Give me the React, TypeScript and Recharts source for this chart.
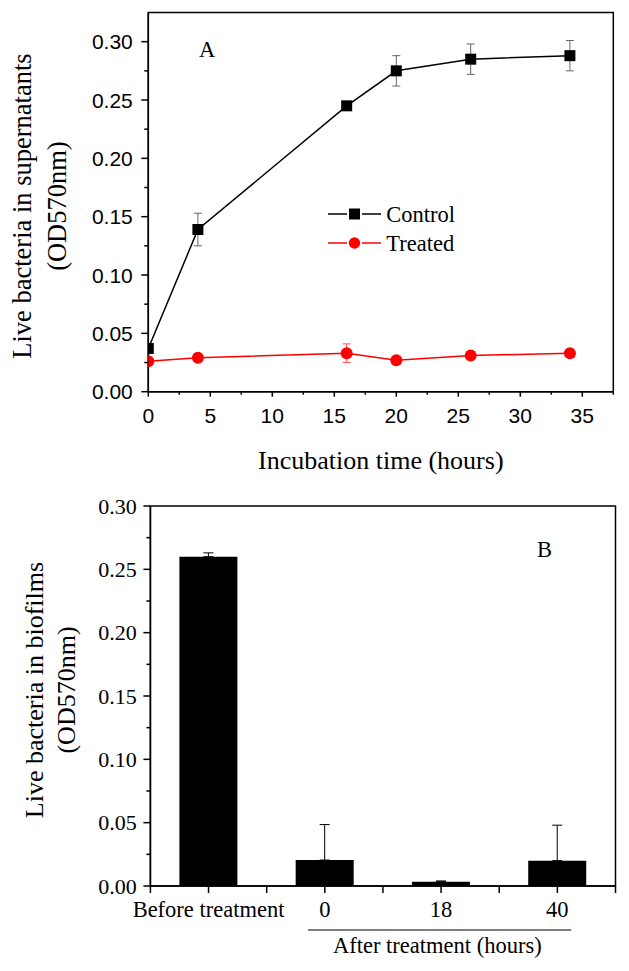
import React from 'react';
import {
  LineChart,
  Line,
  XAxis,
  YAxis,
  ErrorBar,
  ReferenceArea,
  Legend,
  BarChart,
  Bar,
  Label,
} from 'recharts';

const SERIF = '"Liberation Serif", "Times New Roman", Times, serif';
const SANS = '"Liberation Sans", Arial, Helvetica, sans-serif';

// ---------- Panel A data ----------
const hours = [0, 4, 16, 20, 26, 34];
const controlOD = [0.037, 0.139, 0.245, 0.275, 0.285, 0.288];
const controlErr = [0, 0.014, 0, 0.013, 0.013, 0.013];
const treatedOD = [0.026, 0.029, 0.033, 0.027, 0.031, 0.033];
const treatedErr = [0, 0, 0.008, 0, 0, 0];
const xTicksA = [0, 2.5, 5, 7.5, 10, 12.5, 15, 17.5, 20, 22.5, 25, 27.5, 30, 32.5, 35, 37.5];
const yTicksA = [0, 0.025, 0.05, 0.075, 0.1, 0.125, 0.15, 0.175, 0.2, 0.225, 0.25, 0.275, 0.3];

// ---------- Panel B data ----------
const biofilmCategories = ['Before treatment', '0', '18', '40'];
const biofilmOD = [0.26, 0.0205, 0.0034, 0.02];
const biofilmErr = [0.003, 0.028, 0.0006, 0.028];
const xTicksB = [0.5, 1, 1.5, 2, 2.5, 3, 3.5, 4, 4.5];
const yTicksB = [0, 0.025, 0.05, 0.075, 0.1, 0.125, 0.15, 0.175, 0.2, 0.225, 0.25, 0.275, 0.3];

const dataA = hours.map((h, i) => ({
  hour: h,
  control: controlOD[i],
  controlErr: controlErr[i],
  treated: treatedOD[i],
  treatedErr: treatedErr[i],
}));

const dataB = biofilmCategories.map((c, i) => ({
  pos: i + 1,
  label: c,
  od: biofilmOD[i],
  err: [0, biofilmErr[i]],
}));

const isMajor = (v: number, step: number) => Math.abs(v / step - Math.round(v / step)) < 1e-6;

// ---------- ticks ----------
const YTickA = (p: any) => {
  const v = p.payload.value;
  const major = isMajor(v, 0.05);
  return (
    <g>
      <line x1={p.x - (major ? 7 : 4)} x2={p.x} y1={p.y} y2={p.y} stroke="#000" strokeWidth={1.5} />
      {major && (
        <text x={p.x - 15.5} y={p.y} textAnchor="end" dominantBaseline="central" fontFamily={SANS} fontSize={21} fill="#000">
          {v.toFixed(2)}
        </text>
      )}
    </g>
  );
};

const XTickA = (p: any) => {
  const v = p.payload.value;
  const major = isMajor(v, 5);
  return (
    <g>
      <line x1={p.x} x2={p.x} y1={p.y} y2={p.y + (major ? 5 : 3)} stroke="#000" strokeWidth={1.5} />
      {major && (
        <text x={p.x} y={p.y + 31} textAnchor="middle" fontFamily={SANS} fontSize={21} fill="#000">
          {String(v)}
        </text>
      )}
    </g>
  );
};

const YTickB = (p: any) => {
  const v = p.payload.value;
  const major = isMajor(v, 0.05);
  return (
    <g>
      <line x1={p.x - (major ? 7 : 4)} x2={p.x} y1={p.y} y2={p.y} stroke="#000" strokeWidth={1.5} />
      {major && (
        <text x={p.x - 13.7} y={p.y} textAnchor="end" dominantBaseline="central" fontFamily={SERIF} fontSize={22} fill="#000">
          {v.toFixed(2)}
        </text>
      )}
    </g>
  );
};

const XTickB = (p: any) => {
  const v = p.payload.value;
  const isCat = isMajor(v, 1);
  return (
    <g>
      <line x1={p.x} x2={p.x} y1={p.y} y2={p.y + 7} stroke="#000" strokeWidth={1.5} />
      {isCat && (
        <text x={p.x} y={p.y + 30.7} textAnchor="middle" fontFamily={SERIF} fontSize={22.5} fill="#000">
          {biofilmCategories[Math.round(v) - 1]}
        </text>
      )}
    </g>
  );
};

// ---------- labels ----------
const RotatedTitle = ({ cx, cy, lines, gap, fontSize }: any) => (
  <text transform={`rotate(-90 ${cx} ${cy})`} textAnchor="middle" fontFamily={SERIF} fontSize={fontSize} fill="#000">
    {lines.map((l: string, i: number) => (
      <tspan key={i} x={cx} y={cy + (i - (lines.length - 1) / 2) * gap} dominantBaseline="central">
        {l}
      </tspan>
    ))}
  </text>
);

const YLabelA = (lp: any) => {
  const vb = lp.viewBox || { x: 88.3, y: 12.5, width: 60, height: 379.2 };
  return (
    <g>
      <RotatedTitle
        cx={vb.x - 48.8}
        cy={vb.y + vb.height / 2 + 4}
        lines={['Live bacteria in supernatants', '(OD570nm)']}
        gap={35}
        fontSize={26.5}
      />
      <text x={vb.x + vb.width + 50.7} y={vb.y + 44.3} fontFamily={SERIF} fontSize={22.5} fill="#000">
        A
      </text>
    </g>
  );
};

const XLabelA = (lp: any) => {
  const vb = lp.viewBox || { x: 148.3, y: 391.7, width: 465, height: 30 };
  return (
    <text x={vb.x + vb.width / 2} y={vb.y + 77} textAnchor="middle" fontFamily={SERIF} fontSize={26} fill="#000">
      Incubation time (hours)
    </text>
  );
};

const YLabelB = (lp: any) => {
  const vb = lp.viewBox || { x: 90.4, y: 26, width: 60, height: 380 };
  return (
    <g>
      <RotatedTitle
        cx={vb.x - 40.4}
        cy={vb.y + vb.height / 2 - 6}
        lines={['Live bacteria in biofilms', '(OD570nm)']}
        gap={32}
        fontSize={26}
      />
      <text x={vb.x + vb.width + 386.6} y={vb.y + 50.5} fontFamily={SERIF} fontSize={22.5} fill="#000">
        B
      </text>
    </g>
  );
};

const XLabelB = (lp: any) => {
  const vb = lp.viewBox || { x: 150.4, y: 406, width: 465.1, height: 30 };
  return (
    <g>
      <line
        x1={vb.x + vb.width * 0.339}
        x2={vb.x + vb.width * 0.905}
        y1={vb.y + 44}
        y2={vb.y + 44}
        stroke="#000"
        strokeWidth={1.2}
      />
      <text x={vb.x + vb.width * 0.617} y={vb.y + 67} textAnchor="middle" fontFamily={SERIF} fontSize={22.5} fill="#000">
        After treatment (hours)
      </text>
    </g>
  );
};

// ---------- markers ----------
const renderSquare = (p: any) => (
  <rect key={`sq-${p.index}`} x={p.cx - 5.5} y={p.cy - 5.5} width={11} height={11} fill="#000" />
);
const renderCircle = (p: any) => (
  <circle key={`ci-${p.index}`} cx={p.cx} cy={p.cy} r={6} fill="#ff0000" />
);

const legendShapes: Record<string, string> = { Control: 'square', Treated: 'circle' };

const LegendContentA = (props: any) => {
  const payload = props.payload || [];
  return (
    <div style={{ fontFamily: SERIF, fontSize: 22.5, color: '#000' }}>
      {payload.map((e: any) => (
        <div key={e.value} style={{ display: 'flex', alignItems: 'center', height: 29 }}>
          <svg width={53} height={14} style={{ marginRight: 5, display: 'block' }}>
            <line x1={0} x2={19} y1={7} y2={7} stroke={e.color} strokeWidth={1.5} />
            <line x1={34} x2={53} y1={7} y2={7} stroke={e.color} strokeWidth={1.5} />
            {legendShapes[e.value] === 'square' ? (
              <rect x={21} y={1.5} width={11} height={11} fill={e.color} />
            ) : (
              <circle cx={26.5} cy={7} r={5.7} fill={e.color} />
            )}
          </svg>
          <span style={{ lineHeight: '29px', whiteSpace: 'nowrap' }}>{e.value}</span>
        </div>
      ))}
    </div>
  );
};

const PanelA = () => (
  <LineChart width={629} height={480} data={dataA} margin={{ top: 12.5, right: 15.7, left: 88.3, bottom: 58.3 }}>
    <XAxis
      type="number"
      dataKey="hour"
      domain={[0, 37.5]}
      ticks={xTicksA}
      interval={0}
      allowDataOverflow
      tick={(p: any) => <XTickA {...p} />}
      tickLine={false}
      tickSize={0}
      tickMargin={0}
      axisLine={{ stroke: '#000', strokeWidth: 1.5 }}
      height={30}
    >
      <Label content={XLabelA} />
    </XAxis>
    <YAxis
      type="number"
      domain={[0, 0.325]}
      ticks={yTicksA}
      interval={0}
      allowDataOverflow
      tick={(p: any) => <YTickA {...p} />}
      tickLine={false}
      tickSize={0}
      tickMargin={0}
      axisLine={{ stroke: '#000', strokeWidth: 1.5 }}
      width={60}
    >
      <Label content={YLabelA} />
    </YAxis>
    <ReferenceArea x1={0} x2={37.5} y1={0} y2={0.325} fill="none" fillOpacity={0} stroke="#000" strokeWidth={1.5} />
    <Line
      dataKey="control"
      name="Control"
      stroke="#000"
      strokeWidth={1.5}
      dot={renderSquare}
      activeDot={false}
      isAnimationActive={false}
    >
      <ErrorBar dataKey="controlErr" width={4} stroke="#666" strokeWidth={1} direction="y" />
    </Line>
    <Line
      dataKey="treated"
      name="Treated"
      stroke="#ff0000"
      strokeWidth={1.5}
      dot={renderCircle}
      activeDot={false}
      isAnimationActive={false}
    >
      <ErrorBar dataKey="treatedErr" width={4} stroke="#ff5555" strokeWidth={1} direction="y" />
    </Line>
    <Legend
      layout="vertical"
      align="center"
      verticalAlign="middle"
      content={LegendContentA}
      wrapperStyle={{ left: 328.3, top: 199.8, width: 'auto' }}
    />
  </LineChart>
);

const PanelB = () => (
  <BarChart width={629} height={491} data={dataB} margin={{ top: 26, right: 13.5, left: 90.4, bottom: 55 }}>
    <XAxis
      type="number"
      dataKey="pos"
      domain={[0.5, 4.5]}
      ticks={xTicksB}
      interval={0}
      tick={(p: any) => <XTickB {...p} />}
      tickLine={false}
      tickSize={0}
      tickMargin={0}
      axisLine={{ stroke: '#000', strokeWidth: 1.5 }}
      height={30}
    >
      <Label content={XLabelB} />
    </XAxis>
    <YAxis
      type="number"
      domain={[0, 0.3]}
      ticks={yTicksB}
      interval={0}
      tick={(p: any) => <YTickB {...p} />}
      tickLine={false}
      tickSize={0}
      tickMargin={0}
      axisLine={{ stroke: '#000', strokeWidth: 1.5 }}
      width={60}
    >
      <Label content={YLabelB} />
    </YAxis>
    <ReferenceArea x1={0.5} x2={4.5} y1={0} y2={0.3} fill="none" fillOpacity={0} stroke="#000" strokeWidth={1.5} />
    <Bar dataKey="od" fill="#000" barSize={58} isAnimationActive={false}>
      <ErrorBar dataKey="err" width={5} stroke="#000" strokeWidth={1} direction="y" />
    </Bar>
  </BarChart>
);

export default function App() {
  return (
    <div style={{ position: 'absolute', left: 0, top: 0, width: 629, height: 971, background: '#fff' }}>
      <div style={{ position: 'absolute', left: 0, top: 0 }}>
        <PanelA />
      </div>
      <div style={{ position: 'absolute', left: 0, top: 480 }}>
        <PanelB />
      </div>
    </div>
  );
}
